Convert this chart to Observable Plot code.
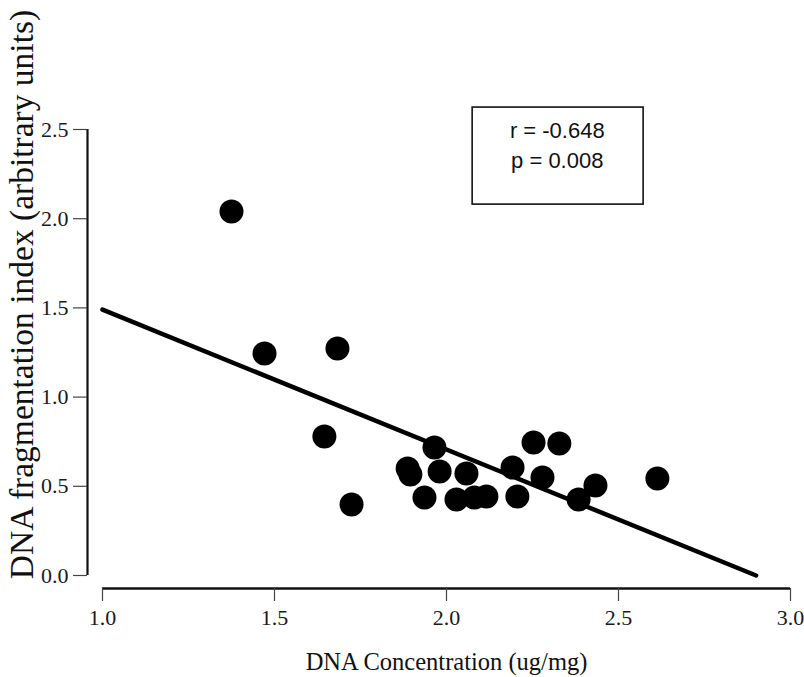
<!DOCTYPE html>
<html>
<head>
<meta charset="utf-8">
<script src="https://cdn.jsdelivr.net/npm/d3@7"></script>
<script src="https://cdn.jsdelivr.net/npm/@observablehq/plot@0.6"></script>
<style>
  html, body { margin: 0; padding: 0; background: #fff; }
  #chart svg { display: block; }
</style>
</head>
<body>
<div id="chart"></div>
<script>
// Data
const concentration = [1.375, 1.471, 1.683, 1.645, 1.724, 1.887, 1.895, 1.965, 1.980, 2.058, 1.936,
                       2.029, 2.081, 2.116, 2.192, 2.206, 2.253, 2.328, 2.279, 2.433, 2.384, 2.613];
const fragmentation = [2.040, 1.244, 1.272, 0.779, 0.398, 0.600, 0.566, 0.717, 0.583, 0.572, 0.437,
                       0.426, 0.437, 0.443, 0.605, 0.443, 0.746, 0.740, 0.549, 0.504, 0.426, 0.544];
const fitX = [1.0, 2.9];
const fitY = [1.49, 0.0];
const xTicks = [1.0, 1.5, 2.0, 2.5, 3.0];
const yTicks = [0.0, 0.5, 1.0, 1.5, 2.0, 2.5];
const statsLines = ["r = -0.648", "p = 0.008"];
const xTitle = "DNA Concentration (ug/mg)";
const yTitle = "DNA fragmentation index (arbitrary units)";

const points = concentration.map((x, i) => ({x, y: fragmentation[i]}));
const fit = fitX.map((x, i) => ({x, y: fitY[i]}));

const serif = "'Liberation Serif', 'Times New Roman', Times, serif";
const sans = "'Liberation Sans', Arial, Helvetica, sans-serif";

const chart = Plot.plot({
  width: 804,
  height: 677,
  marginLeft: 102,
  marginRight: 14,
  marginTop: 129,
  marginBottom: 102,
  style: {fontFamily: serif, background: "#fff", color: "#111"},
  x: {domain: [1, 3], label: null},
  y: {domain: [0, 2.5], label: null},
  marks: [
    // y axis
    Plot.ruleX([1], {y1: 0, y2: 2.5, dx: -15, strokeWidth: 2.2, stroke: "#111"}),
    Plot.axisY({ticks: yTicks, tickFormat: d3.format(".1f"), tickSize: 14, dx: -15, tickPadding: 5,
                fontSize: 22, strokeWidth: 1.2, stroke: "#444", fill: "#1a1a1a", label: null}),
    // x axis
    Plot.ruleY([0], {x1: 1, x2: 3, dy: 13, strokeWidth: 2.5, stroke: "#111"}),
    Plot.axisX({ticks: xTicks, tickFormat: d3.format(".1f"), tickSize: 13, dy: 13, tickPadding: 8,
                fontSize: 22, strokeWidth: 1.2, stroke: "#444", fill: "#1a1a1a", label: null}),
    // regression line
    Plot.line(fit, {x: "x", y: "y", stroke: "#000", strokeWidth: 4.5}),
    // points
    Plot.dot(points, {x: "x", y: "y", r: 12, fill: "#000", stroke: "none"}),
    // stats box
    Plot.rect([{x1: 2.076, x2: 2.573, y1: 2.079, y2: 2.623}],
              {x1: "x1", x2: "x2", y1: "y1", y2: "y2", fill: "white", stroke: "#111", strokeWidth: 1.6}),
    Plot.text(statsLines, {x: 2.322, y: (d, i) => 2.49 - i * 0.168, text: d => d,
                           fontFamily: sans, fontSize: 22, fill: "#111", textAnchor: "middle"}),
    // titles
    Plot.text([xTitle], {frameAnchor: "bottom", dy: 94, fontSize: 24.5, fill: "#111"}),
    Plot.text([yTitle], {frameAnchor: "left", textAnchor: "middle", rotate: -90, dx: -80, dy: -58,
                         fontSize: 33.5, fill: "#111"})
  ]
});
document.getElementById("chart").appendChild(chart);
</script>
</body>
</html>
